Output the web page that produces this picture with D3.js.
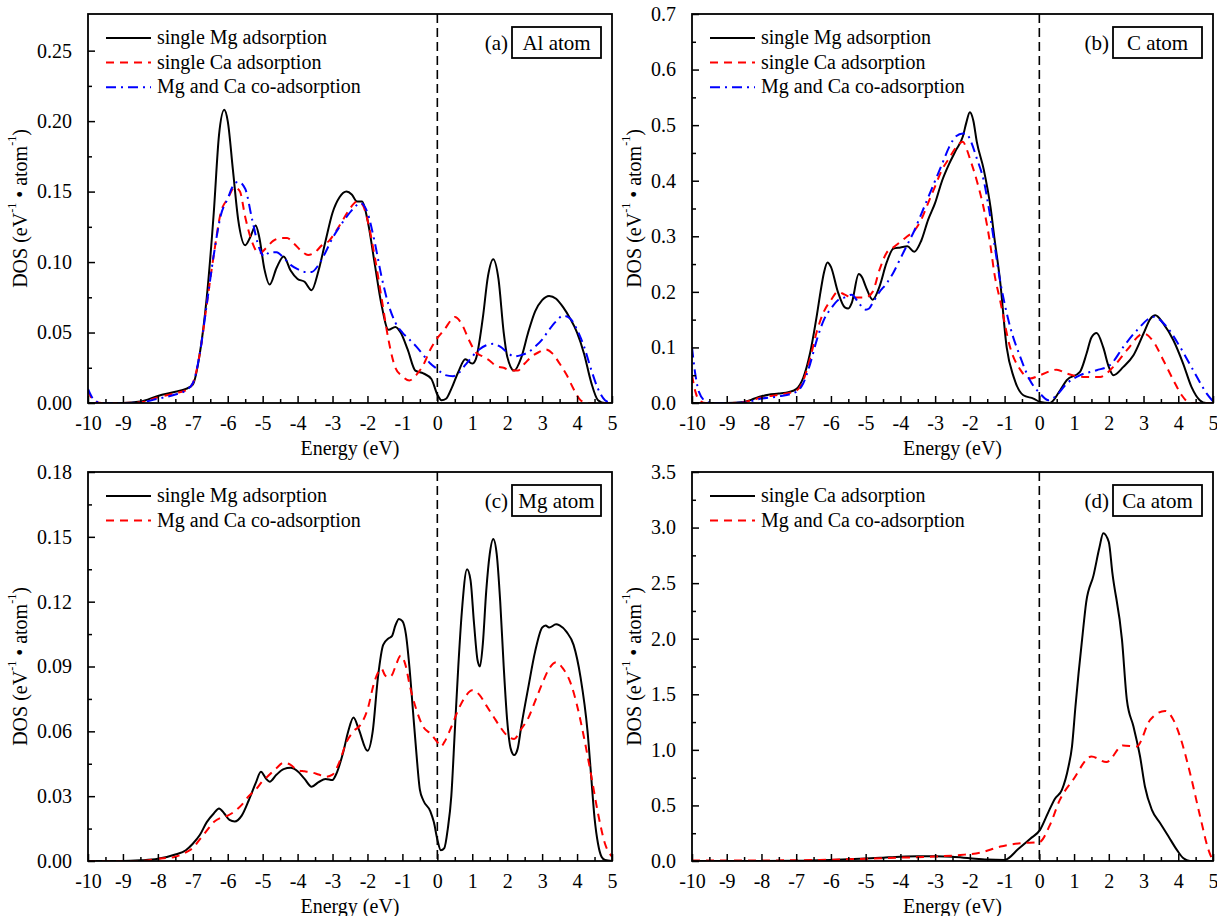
<!DOCTYPE html>
<html><head><meta charset="utf-8">
<script src="https://cdn.jsdelivr.net/npm/d3@7"></script>
<style>
html,body{margin:0;padding:0;background:#fff;}
text{font-family:"Liberation Serif","Times New Roman",serif;fill:#000;}
</style></head>
<body>
<svg id="chart" width="1217" height="916"></svg>
<script>
// ---------------- DATA ----------------
const xTicks = [-10,-9,-8,-7,-6,-5,-4,-3,-2,-1,0,1,2,3,4,5];
const aTicks = [0,0.05,0.10,0.15,0.20,0.25];
const bTicks = [0,0.1,0.2,0.3,0.4,0.5,0.6,0.7];
const cTicks = [0,0.03,0.06,0.09,0.12,0.15,0.18];
const dTicks = [0,0.5,1.0,1.5,2.0,2.5,3.0,3.5];

const legendABC = ["single Mg adsorption","single Ca adsorption","Mg and Ca co-adsorption"];
const legendC = ["single Mg adsorption","Mg and Ca co-adsorption"];
const legendD = ["single Ca adsorption","Mg and Ca co-adsorption"];

// (a) Al atom
const aMg = [[-10,0],[-9.5,0],[-9,0],[-8.5,0.001],[-8,0.005],[-7.5,0.008],[-7.2,0.01],[-7,0.013],[-6.8,0.035],[-6.6,0.075],[-6.4,0.135],[-6.25,0.19],[-6.1,0.208],[-6.0,0.2],[-5.85,0.165],[-5.7,0.13],[-5.5,0.112],[-5.35,0.118],[-5.2,0.126],[-5.1,0.118],[-4.95,0.095],[-4.8,0.084],[-4.6,0.096],[-4.4,0.104],[-4.2,0.094],[-4.0,0.088],[-3.8,0.086],[-3.6,0.08],[-3.4,0.094],[-3.2,0.115],[-3.0,0.135],[-2.8,0.146],[-2.6,0.15],[-2.45,0.148],[-2.3,0.143],[-2.15,0.143],[-2.0,0.13],[-1.8,0.1],[-1.6,0.07],[-1.4,0.052],[-1.2,0.054],[-1.05,0.05],[-0.85,0.038],[-0.63,0.023],[-0.4,0.021],[-0.17,0.017],[0,0.006],[0.12,0.002],[0.25,0.003],[0.4,0.01],[0.6,0.022],[0.8,0.031],[1.0,0.028],[1.1,0.031],[1.3,0.06],[1.45,0.09],[1.6,0.102],[1.75,0.088],[1.9,0.05],[2.0,0.033],[2.2,0.023],[2.4,0.032],[2.6,0.05],[2.8,0.065],[3.0,0.073],[3.2,0.076],[3.4,0.074],[3.6,0.068],[3.8,0.06],[4.0,0.05],[4.2,0.035],[4.4,0.015],[4.6,0.002],[4.8,0],[5,0]];
const aCa = [[-10,0.009],[-9.85,0.002],[-9.6,0],[-9,0],[-8.5,0.0005],[-8,0.004],[-7.5,0.007],[-7.2,0.009],[-7,0.014],[-6.8,0.035],[-6.6,0.07],[-6.4,0.105],[-6.2,0.135],[-6.0,0.145],[-5.8,0.153],[-5.65,0.15],[-5.5,0.132],[-5.3,0.114],[-5.1,0.106],[-4.9,0.11],[-4.7,0.115],[-4.5,0.117],[-4.3,0.117],[-4.1,0.113],[-3.9,0.108],[-3.7,0.105],[-3.5,0.107],[-3.3,0.112],[-3.1,0.115],[-2.9,0.122],[-2.7,0.13],[-2.5,0.138],[-2.3,0.143],[-2.15,0.141],[-2.0,0.13],[-1.8,0.105],[-1.6,0.075],[-1.4,0.045],[-1.2,0.025],[-1.0,0.019],[-0.8,0.016],[-0.6,0.02],[-0.4,0.027],[-0.2,0.038],[0,0.046],[0.2,0.052],[0.4,0.059],[0.5,0.061],[0.7,0.056],[0.9,0.045],[1.1,0.036],[1.3,0.033],[1.5,0.03],[1.7,0.026],[1.9,0.025],[2.1,0.023],[2.3,0.023],[2.5,0.028],[2.7,0.033],[2.9,0.036],[3.1,0.038],[3.3,0.035],[3.5,0.028],[3.7,0.02],[3.9,0.01],[4.1,0.002],[4.3,0],[5,0]];
const aCo = [[-10,0.01],[-9.85,0.003],[-9.6,0],[-9,0],[-8.5,0.0005],[-8,0.003],[-7.5,0.006],[-7.2,0.009],[-7,0.014],[-6.8,0.035],[-6.6,0.07],[-6.4,0.105],[-6.2,0.133],[-6.0,0.145],[-5.85,0.154],[-5.7,0.157],[-5.5,0.152],[-5.3,0.13],[-5.1,0.11],[-4.95,0.104],[-4.8,0.107],[-4.6,0.107],[-4.4,0.103],[-4.2,0.098],[-4.0,0.095],[-3.8,0.093],[-3.6,0.093],[-3.4,0.098],[-3.2,0.107],[-3.0,0.117],[-2.8,0.125],[-2.6,0.132],[-2.4,0.138],[-2.2,0.142],[-2.0,0.135],[-1.8,0.115],[-1.6,0.09],[-1.4,0.07],[-1.2,0.057],[-1.0,0.05],[-0.8,0.045],[-0.6,0.04],[-0.4,0.034],[-0.2,0.028],[0,0.024],[0.2,0.02],[0.45,0.019],[0.6,0.021],[0.8,0.027],[1.0,0.033],[1.2,0.038],[1.4,0.041],[1.6,0.042],[1.8,0.04],[2.0,0.036],[2.2,0.033],[2.4,0.034],[2.6,0.036],[2.8,0.04],[3.0,0.045],[3.2,0.052],[3.4,0.058],[3.6,0.062],[3.8,0.06],[4.0,0.052],[4.2,0.04],[4.4,0.024],[4.6,0.01],[4.8,0.002],[5,0]];

// (b) C atom
const bMg = [[-10,0],[-9.5,0],[-9,0],[-8.5,0.002],[-8.2,0.008],[-8.0,0.012],[-7.8,0.015],[-7.5,0.017],[-7.2,0.02],[-7.0,0.025],[-6.8,0.045],[-6.6,0.09],[-6.4,0.16],[-6.3,0.2],[-6.2,0.235],[-6.1,0.253],[-6.0,0.245],[-5.8,0.2],[-5.6,0.172],[-5.5,0.17],[-5.4,0.18],[-5.2,0.232],[-5.1,0.226],[-5.0,0.21],[-4.8,0.186],[-4.6,0.21],[-4.4,0.252],[-4.2,0.278],[-4.0,0.28],[-3.8,0.282],[-3.6,0.272],[-3.4,0.292],[-3.2,0.33],[-3.0,0.36],[-2.8,0.4],[-2.6,0.43],[-2.4,0.455],[-2.2,0.48],[-2.1,0.505],[-2.0,0.523],[-1.9,0.508],[-1.8,0.47],[-1.6,0.42],[-1.4,0.35],[-1.3,0.3],[-1.13,0.22],[-0.94,0.1],[-0.74,0.047],[-0.46,0.014],[-0.17,0.008],[0.02,0.002],[0.3,0],[0.6,0.023],[0.79,0.041],[1.17,0.056],[1.36,0.089],[1.5,0.118],[1.65,0.126],[1.84,0.1],[2.0,0.065],[2.13,0.05],[2.42,0.065],[2.71,0.086],[3.0,0.125],[3.2,0.152],[3.34,0.158],[3.57,0.143],[3.86,0.113],[4.14,0.071],[4.38,0.029],[4.62,0.005],[4.8,0],[5,0]];
const bCa = [[-10,0.05],[-9.9,0.02],[-9.8,0.005],[-9.6,0],[-9,0],[-8.5,0.002],[-8,0.01],[-7.5,0.015],[-7,0.022],[-6.8,0.04],[-6.6,0.08],[-6.4,0.13],[-6.2,0.165],[-6.0,0.185],[-5.8,0.2],[-5.6,0.195],[-5.4,0.19],[-5.2,0.19],[-5.0,0.19],[-4.8,0.2],[-4.6,0.24],[-4.4,0.27],[-4.2,0.28],[-4.0,0.29],[-3.8,0.3],[-3.6,0.31],[-3.4,0.33],[-3.2,0.36],[-3.0,0.39],[-2.8,0.42],[-2.6,0.44],[-2.4,0.46],[-2.2,0.47],[-2.1,0.458],[-2.0,0.44],[-1.8,0.4],[-1.6,0.35],[-1.4,0.28],[-1.3,0.235],[-1.13,0.185],[-0.84,0.1],[-0.55,0.06],[-0.27,0.044],[0.02,0.05],[0.5,0.06],[0.79,0.053],[1.27,0.047],[1.75,0.047],[2.13,0.065],[2.52,0.095],[3.0,0.125],[3.29,0.11],[3.57,0.077],[3.86,0.041],[4.1,0.014],[4.34,0],[5,0]];
const bCo = [[-10,0.1],[-9.9,0.05],[-9.8,0.02],[-9.6,0.003],[-9.4,0],[-9,0],[-8.5,0.001],[-8,0.008],[-7.5,0.012],[-7,0.02],[-6.8,0.035],[-6.6,0.07],[-6.4,0.115],[-6.2,0.15],[-6.0,0.17],[-5.8,0.185],[-5.6,0.19],[-5.4,0.195],[-5.2,0.18],[-5.0,0.168],[-4.9,0.17],[-4.8,0.18],[-4.6,0.2],[-4.4,0.215],[-4.2,0.235],[-4.0,0.26],[-3.8,0.285],[-3.6,0.31],[-3.4,0.34],[-3.2,0.37],[-3.0,0.4],[-2.8,0.43],[-2.6,0.46],[-2.4,0.48],[-2.2,0.485],[-2.1,0.485],[-2.0,0.475],[-1.8,0.44],[-1.6,0.4],[-1.4,0.33],[-1.13,0.22],[-0.84,0.137],[-0.55,0.083],[-0.27,0.041],[0.02,0.017],[0.26,0.005],[0.5,0.014],[0.79,0.035],[1.17,0.05],[1.65,0.059],[2.03,0.068],[2.42,0.101],[2.81,0.131],[3.29,0.155],[3.67,0.137],[4.05,0.101],[4.43,0.059],[4.82,0.017],[5,0.003]];

// (c) Mg atom
const cMg = [[-10,0],[-9,0],[-8.5,0.0003],[-8,0.001],[-7.5,0.003],[-7.2,0.005],[-7,0.008],[-6.8,0.012],[-6.6,0.018],[-6.4,0.022],[-6.25,0.0243],[-6.1,0.022],[-5.95,0.019],[-5.8,0.0183],[-5.6,0.021],[-5.4,0.028],[-5.2,0.036],[-5.05,0.0413],[-4.9,0.038],[-4.8,0.0367],[-4.6,0.04],[-4.4,0.0425],[-4.2,0.0431],[-4.0,0.0415],[-3.8,0.038],[-3.6,0.0344],[-3.4,0.0365],[-3.2,0.038],[-3.0,0.0375],[-2.9,0.04],[-2.7,0.05],[-2.55,0.06],[-2.4,0.0664],[-2.25,0.061],[-2.0,0.051],[-1.85,0.06],[-1.7,0.085],[-1.55,0.1],[-1.4,0.103],[-1.3,0.104],[-1.2,0.109],[-1.1,0.112],[-1.0,0.111],[-0.9,0.105],[-0.8,0.09],[-0.7,0.07],[-0.6,0.05],[-0.5,0.033],[-0.4,0.028],[-0.2,0.023],[-0.1,0.018],[0,0.01],[0.1,0.005],[0.2,0.006],[0.3,0.015],[0.4,0.03],[0.5,0.06],[0.6,0.09],[0.7,0.115],[0.85,0.135],[0.95,0.13],[1.05,0.11],[1.15,0.093],[1.22,0.09],[1.3,0.1],[1.4,0.125],[1.5,0.142],[1.6,0.149],[1.7,0.142],[1.8,0.12],[1.9,0.09],[2.0,0.065],[2.1,0.052],[2.2,0.049],[2.3,0.052],[2.4,0.062],[2.6,0.08],[2.8,0.097],[3.0,0.108],[3.1,0.109],[3.2,0.108],[3.4,0.1095],[3.5,0.109],[3.7,0.106],[3.9,0.1],[4.1,0.085],[4.3,0.06],[4.4,0.04],[4.5,0.02],[4.6,0.008],[4.7,0.002],[4.8,0.0005],[5,0]];
const cCo = [[-10,0],[-8.5,0],[-8,0.001],[-7.5,0.002],[-7.2,0.004],[-7,0.006],[-6.8,0.01],[-6.6,0.014],[-6.4,0.018],[-6.2,0.02],[-6.0,0.021],[-5.8,0.023],[-5.6,0.026],[-5.4,0.03],[-5.2,0.033],[-5.0,0.037],[-4.8,0.04],[-4.6,0.043],[-4.4,0.0455],[-4.2,0.0445],[-4.0,0.042],[-3.8,0.0415],[-3.6,0.041],[-3.4,0.04],[-3.2,0.039],[-3.0,0.04],[-2.8,0.046],[-2.6,0.055],[-2.4,0.06],[-2.2,0.063],[-2.0,0.07],[-1.8,0.083],[-1.6,0.089],[-1.5,0.086],[-1.4,0.085],[-1.3,0.086],[-1.2,0.09],[-1.05,0.095],[-0.9,0.09],[-0.8,0.082],[-0.6,0.07],[-0.4,0.062],[-0.2,0.059],[0,0.055],[0.1,0.053],[0.2,0.055],[0.4,0.062],[0.6,0.07],[0.8,0.076],[1.0,0.079],[1.2,0.077],[1.4,0.072],[1.6,0.067],[1.8,0.062],[2.0,0.058],[2.2,0.0565],[2.4,0.061],[2.6,0.066],[2.8,0.074],[3.0,0.082],[3.2,0.089],[3.4,0.092],[3.6,0.089],[3.8,0.083],[4.0,0.072],[4.2,0.057],[4.4,0.04],[4.6,0.022],[4.8,0.008],[5,0.002]];

// (d) Ca atom
const dCa = [[-10,0],[-8,0],[-7,0.002],[-6,0.01],[-5,0.022],[-4.5,0.03],[-4,0.038],[-3.5,0.042],[-3,0.042],[-2.5,0.038],[-2,0.025],[-1.5,0.013],[-1.0,0.01],[-0.6,0.11],[-0.26,0.2],[0.02,0.28],[0.26,0.44],[0.45,0.56],[0.65,0.64],[0.84,0.85],[0.94,1.03],[1.04,1.39],[1.13,1.69],[1.23,1.99],[1.35,2.33],[1.56,2.57],[1.73,2.82],[1.84,2.95],[2.0,2.87],[2.1,2.6],[2.38,1.99],[2.52,1.45],[2.71,1.21],[2.9,0.94],[3.04,0.67],[3.24,0.46],[3.48,0.34],[3.72,0.22],[3.96,0.1],[4.15,0.024],[4.34,0],[5,0]];
const dCo = [[-10,0.005],[-8,0.005],[-7,0.007],[-6,0.012],[-5,0.02],[-4,0.03],[-3,0.04],[-2.28,0.054],[-1.7,0.075],[-1.12,0.13],[-0.55,0.16],[0,0.17],[0.3,0.32],[0.59,0.55],[0.97,0.73],[1.5,0.94],[1.93,0.89],[2.41,1.04],[2.8,1.03],[3.19,1.27],[3.62,1.35],[3.86,1.27],[4.05,1.12],[4.34,0.79],[4.63,0.4],[4.87,0.1],[5,0]];

// ---------------- LAYOUT / STYLE ----------------
const BLACK = {stroke:"#000", dash:null};
const RED   = {stroke:"#ff0000", dash:"8,6"};
const BLUE  = {stroke:"#0000ff", dash:"10,5,2,5"};

const panels = [
  {L:88,  R:612,  T:14,  B:403, yMax:0.276, yTicks:aTicks, yMinor:0.025, fmt:".2f", titleX:20,
   series:[[aMg,BLACK],[aCa,RED],[aCo,BLUE]], legend:legendABC, tag:"(a)", box:"Al atom"},
  {L:692, R:1213, T:14,  B:403, yMax:0.7,   yTicks:bTicks, yMinor:0.05,  fmt:".1f", titleX:634,
   series:[[bMg,BLACK],[bCa,RED],[bCo,BLUE]], legend:legendABC, tag:"(b)", box:"C atom"},
  {L:88,  R:612,  T:472, B:861, yMax:0.18,  yTicks:cTicks, yMinor:0.015, fmt:".2f", titleX:20,
   series:[[cMg,BLACK],[cCo,RED]], legend:legendC, tag:"(c)", box:"Mg atom"},
  {L:692, R:1213, T:472, B:861, yMax:3.5,   yTicks:dTicks, yMinor:0.25,  fmt:".1f", titleX:634,
   series:[[dCa,BLACK],[dCo,RED]], legend:legendD, tag:"(d)", box:"Ca atom"}
];

const svg = d3.select("#chart");
const FS = 20;

panels.forEach((p, i) => {
  const x = d3.scaleLinear().domain([-10, 5]).range([p.L, p.R]);
  const y = d3.scaleLinear().domain([0, p.yMax]).range([p.B, p.T]);
  const g = svg.append("g");

  const clipId = "clip" + i;
  svg.append("clipPath").attr("id", clipId).append("rect")
    .attr("x", p.L).attr("y", p.T).attr("width", p.R - p.L).attr("height", p.B - p.T);

  // zero line
  g.append("line").attr("x1", x(0)).attr("x2", x(0)).attr("y1", p.T).attr("y2", p.B)
    .attr("stroke", "#000").attr("stroke-width", 1.6).attr("stroke-dasharray", "9,5");

  // curves
  const line = d3.line().x(d => x(d[0])).y(d => y(d[1])).curve(d3.curveMonotoneX);
  const cg = g.append("g").attr("clip-path", `url(#${clipId})`);
  p.series.forEach(([data, st]) => {
    cg.append("path").datum(data).attr("d", line).attr("fill", "none")
      .attr("stroke", st.stroke).attr("stroke-width", 2)
      .attr("stroke-dasharray", st.dash).attr("stroke-linejoin", "round");
  });

  // x axis (ticks inward)
  const xMinor = d3.range(-9.5, 5, 1);
  const xAx = g.append("g").attr("transform", `translate(0,${p.B})`)
    .call(d3.axisBottom(x).tickValues(xTicks).tickSizeInner(-7).tickSizeOuter(0).tickPadding(13).tickFormat(d3.format("d")));
  xAx.select(".domain").remove();
  xAx.selectAll("line").attr("stroke", "#000").attr("stroke-width", 1.5);
  xAx.selectAll("text").attr("font-size", FS).attr("font-family", "Liberation Serif").attr("fill", "#000")
    .text(d => (d < 0 ? "-" + Math.abs(d) : String(d)));
  const xMi = g.append("g").attr("transform", `translate(0,${p.B})`)
    .call(d3.axisBottom(x).tickValues(xMinor).tickSizeInner(-4).tickSizeOuter(0).tickFormat(""));
  xMi.select(".domain").remove();
  xMi.selectAll("line").attr("stroke", "#000").attr("stroke-width", 1.5);

  // y axis
  const yAx = g.append("g").attr("transform", `translate(${p.L},0)`)
    .call(d3.axisLeft(y).tickValues(p.yTicks).tickSizeInner(-7).tickSizeOuter(0).tickPadding(16).tickFormat(d3.format(p.fmt)));
  yAx.select(".domain").remove();
  yAx.selectAll("line").attr("stroke", "#000").attr("stroke-width", 1.5);
  yAx.selectAll("text").attr("font-size", FS).attr("font-family", "Liberation Serif").attr("fill", "#000");
  const yMinorVals = p.yTicks.slice(0, -1).map(v => v + p.yMinor).filter(v => v < p.yMax);
  const yMi = g.append("g").attr("transform", `translate(${p.L},0)`)
    .call(d3.axisLeft(y).tickValues(yMinorVals).tickSizeInner(-4).tickSizeOuter(0).tickFormat(""));
  yMi.select(".domain").remove();
  yMi.selectAll("line").attr("stroke", "#000").attr("stroke-width", 1.5);

  // frame
  g.append("rect").attr("x", p.L).attr("y", p.T).attr("width", p.R - p.L).attr("height", p.B - p.T)
    .attr("fill", "none").attr("stroke", "#000").attr("stroke-width", 1.8);

  // axis titles
  g.append("text").attr("x", (p.L + p.R) / 2).attr("y", p.B + 52).attr("text-anchor", "middle")
    .attr("font-size", FS).text("Energy (eV)");
  const yt = g.append("text").attr("transform", `translate(${p.titleX},${(p.T + p.B) / 2}) rotate(-90)`)
    .attr("text-anchor", "middle").attr("dominant-baseline", "central").attr("font-size", FS);
  yt.append("tspan").text("DOS (eV");
  yt.append("tspan").attr("font-size", 12).attr("dy", -8).text("-1");
  yt.append("tspan").attr("dy", 8).text(" \u2022 atom");
  yt.append("tspan").attr("font-size", 12).attr("dy", -8).text("-1");
  yt.append("tspan").attr("dy", 8).text(")");

  // legend
  p.legend.forEach((name, k) => {
    const st = p.series[k][1];
    const ly = p.T + 24 + k * 24.6;
    g.append("line").attr("x1", p.L + 18).attr("x2", p.L + 63).attr("y1", ly).attr("y2", ly)
      .attr("stroke", st.stroke).attr("stroke-width", 2).attr("stroke-dasharray", st.dash);
    g.append("text").attr("x", p.L + 69).attr("y", ly + 6).attr("font-size", FS).text(name);
  });

  // panel tag and boxed label
  const bw = 89, bh = 31;
  const bx = p.R - 11 - bw, by = p.T + 13;
  g.append("rect").attr("x", bx).attr("y", by).attr("width", bw).attr("height", bh)
    .attr("fill", "#fff").attr("stroke", "#000").attr("stroke-width", 1.8);
  g.append("text").attr("x", bx + bw / 2).attr("y", by + bh / 2 + 7.5).attr("text-anchor", "middle")
    .attr("font-size", 21).text(p.box);
  g.append("text").attr("x", bx - 4).attr("y", by + bh / 2 + 7.5).attr("text-anchor", "end")
    .attr("font-size", 21).text(p.tag);
});
</script>
</body></html>
